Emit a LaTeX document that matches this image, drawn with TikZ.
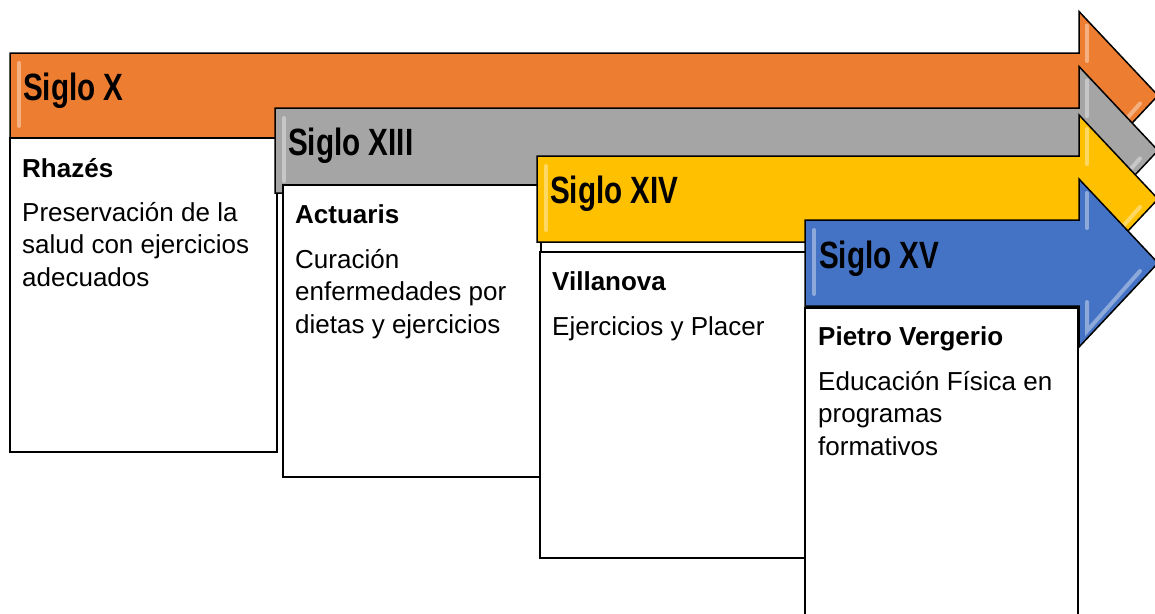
\documentclass[tikz,border=0pt]{standalone}
\usepackage{fontspec}
\setmainfont{Liberation Sans}
\usepackage{graphicx}
\definecolor{cOr}{HTML}{ED7D31}
\definecolor{cGr}{HTML}{A5A5A5}
\definecolor{cYe}{HTML}{FFC000}
\definecolor{cBl}{HTML}{4472C4}
\tikzset{
  bandline/.style={draw=black, line width=1.5pt, line join=miter},
  infobox/.style={draw=black, fill=white, line width=1.5pt},
  hdr/.style={anchor=base west, inner sep=0pt, font=\fontsize{38}{38}\selectfont\bfseries},
  nm/.style={anchor=base west, inner sep=0pt, font=\fontsize{26}{32}\selectfont\bfseries},
  bd/.style={anchor=base west, inner sep=0pt, font=\fontsize{26}{32.5}\selectfont},
  hlite/.style={line width=4pt, line cap=round, opacity=0.6},
}
\newcommand{\drawband}[4]{%
  \pgfmathsetmacro{\bandcy}{(#2+#3)/2}%
  \pgfmathsetmacro{\bandht}{\bandcy-84}%
  \pgfmathsetmacro{\bandhb}{\bandcy+84}%
  \filldraw[bandline, fill=#4] (#1,#2) -- (1079,#2) -- (1079,\bandht) -- (1158,\bandcy)
     -- (1079,\bandhb) -- (1079,#3) -- (#1,#3) -- cycle;
  \draw[hlite, #4!35!white] (#1+9,#2+10) -- (#1+9,#3-12);
  \draw[hlite, #4!35!white] (1087,\bandht+14) -- (1087,#2+8);
  \draw[hlite, #4!35!white] (1087,#3-4) -- (1087,\bandhb-16) -- (1140,\bandcy+8);
}
\begin{document}
\begin{tikzpicture}[x=1pt, y=-1pt]
  \useasboundingbox (0,0) rectangle (1155,613);
  \clip (0,0) rectangle (1155,613);

  % Siglo X
  \drawband{10}{53}{138}{cOr}
  \node[hdr] (h1) at (23,100) {\scalebox{0.78}[1]{Siglo X}};
  \draw[infobox] (10,138) rectangle (277,452);
  \node[nm] (n1) at (22,177) {Rhazés};
  \node[bd] (b1) at (22,221) {\parbox[t]{250pt}{\raggedright Preservación de la\\salud con ejercicios\\adecuados}};

  % Siglo XIII
  \drawband{275}{108}{193}{cGr}
  \node[hdr] (h2) at (288,155) {\scalebox{0.78}[1]{Siglo XIII}};
  \draw[infobox] (283,185) rectangle (541,477);
  \node[nm] (n2) at (295,223) {Actuaris};
  \node[bd] (b2) at (295,268) {\parbox[t]{240pt}{\raggedright Curación\\enfermedades por\\dietas y ejercicios}};

  % Siglo XIV
  \drawband{537}{156}{242}{cYe}
  \node[hdr] (h3) at (550,203) {\scalebox{0.78}[1]{Siglo XIV}};
  \draw[infobox] (540,252) rectangle (806,558);
  \node[nm] (n3) at (552,290) {Villanova};
  \node[bd] (b3) at (552,335) {\parbox[t]{250pt}{\raggedright Ejercicios y Placer}};

  % Siglo XV
  \drawband{805}{220}{306}{cBl}
  \node[hdr] (h4) at (819,268) {\scalebox{0.78}[1]{Siglo XV}};
  \draw[infobox] (805,308) rectangle (1078,630);
  \node[nm] (n4) at (818,345) {Pietro Vergerio};
  \node[bd] (b4) at (818,390) {\parbox[t]{250pt}{\raggedright Educación Física en\\programas\\formativos}};
\end{tikzpicture}
\end{document}
